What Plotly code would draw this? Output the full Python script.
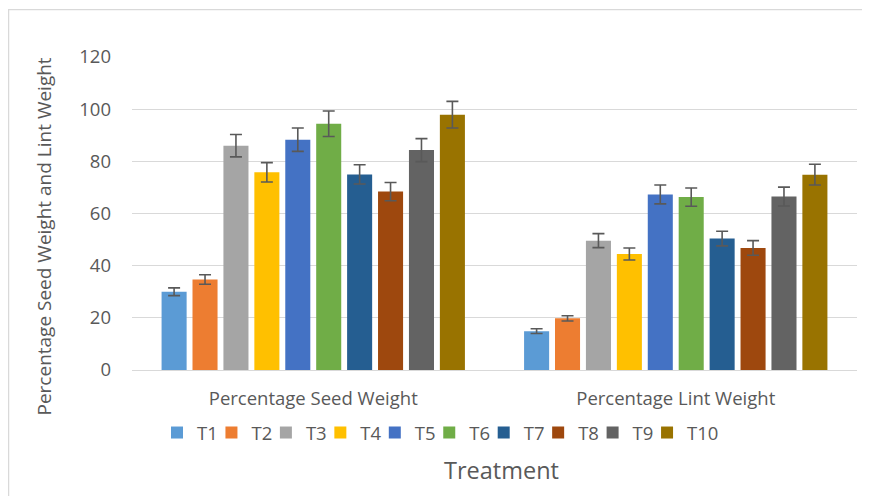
import plotly.graph_objects as go

categories = ["Percentage Seed Weight", "Percentage Lint Weight"]
treatments = ["T1", "T2", "T3", "T4", "T5", "T6", "T7", "T8", "T9", "T10"]
seed_weight = [30.0, 34.7, 86.0, 75.8, 88.3, 94.4, 75.0, 68.4, 84.3, 97.9]
seed_error = [1.5, 1.8, 4.3, 3.7, 4.5, 4.9, 3.7, 3.5, 4.4, 5.1]
lint_weight = [14.9, 19.8, 49.6, 44.5, 67.3, 66.3, 50.4, 46.8, 66.5, 74.9]
lint_error = [0.9, 1.0, 2.7, 2.3, 3.6, 3.5, 2.8, 2.8, 3.6, 4.0]
colors = ["#5B9BD5", "#ED7D31", "#A5A5A5", "#FFC000", "#4472C4",
          "#70AD47", "#255E91", "#9E480E", "#636363", "#997300"]
y_ticks = [0, 20, 40, 60, 80, 100, 120]

FONT = "Open Sans"
TXT = "#595959"

# figure pixel geometry (page body adds an 8px offset)
W, H = 862, 488
L, R, T, B = 124, 13, 49, 126
pw, ph = W - L - R, H - T - B


def px_x(x):
    return (x - L) / pw


def px_y(y):
    return (H - B - y) / ph


fig = go.Figure()
legend_names = ["legend"] + [f"legend{i}" for i in range(2, len(treatments) + 1)]
for i, t in enumerate(treatments):
    fig.add_trace(go.Bar(
        name=t,
        x=categories,
        y=[seed_weight[i], lint_weight[i]],
        marker=dict(color=colors[i], line=dict(width=0)),
        error_y=dict(type="data", array=[seed_error[i], lint_error[i]],
                     color="#595959", thickness=1.6, width=6),
        legend=legend_names[i],
    ))

legend_start, legend_pitch = 149, 54.45
legends = {}
for i, ln in enumerate(legend_names):
    legends[ln] = dict(orientation="h", x=px_x(legend_start + i * legend_pitch), y=px_y(425),
                       xanchor="left", yanchor="middle", bgcolor="rgba(0,0,0,0)",
                       font=dict(size=18.5, color=TXT, family=FONT), itemwidth=30)

fig.update_layout(
    width=W, height=H,
    margin=dict(l=L, r=R, t=T, b=B, autoexpand=False),
    paper_bgcolor="white", plot_bgcolor="white",
    font=dict(family=FONT, color=TXT, size=18.5),
    barmode="group", bargap=0.147, bargroupgap=0.19,
    showlegend=True,
    xaxis=dict(showgrid=False, showline=False, ticks="", tickfont=dict(size=18.5, color=TXT),
               ticklabelstandoff=15),
    yaxis=dict(range=[0, 120], tickvals=y_ticks, showgrid=True, gridcolor="#D9D9D9",
               gridwidth=1.3, zeroline=True, zerolinecolor="#D9D9D9", zerolinewidth=1.3,
               showline=False, ticks="", tickfont=dict(size=18.5, color=TXT), ticklabelstandoff=20),
    annotations=[
        dict(text="Percentage Seed Weight and Lint Weight", textangle=-90, x=px_x(35), y=px_y(228.5),
             xref="paper", yref="paper", showarrow=False, font=dict(size=19, color=TXT),
             xanchor="center", yanchor="middle"),
        dict(text="Treatment", x=px_x(493.5), y=px_y(462), xref="paper", yref="paper",
             showarrow=False, font=dict(size=23.5, color=TXT), xanchor="center", yanchor="middle"),
    ],
    shapes=[dict(type="rect", xref="paper", yref="paper", x0=px_x(0.6), x1=px_x(900),
                 y0=px_y(520), y1=px_y(1.6), line=dict(color="#D9D9D9", width=1.3),
                 fillcolor="rgba(0,0,0,0)", layer="below")],
    **legends,
)

fig.write_html("out.html")
